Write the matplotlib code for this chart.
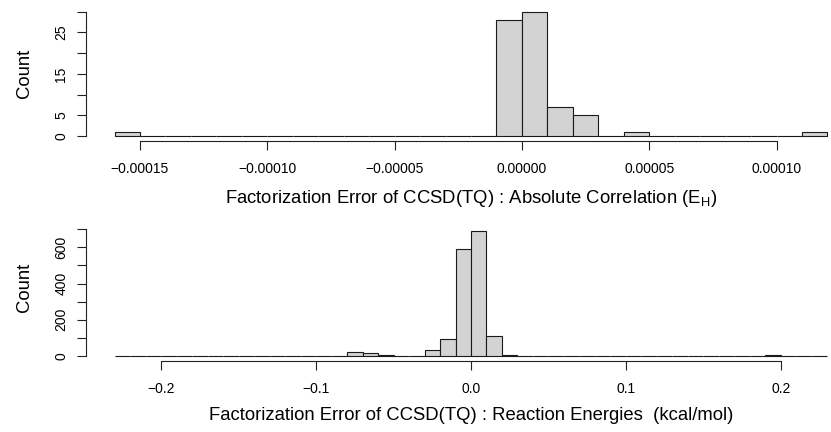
import numpy as np
import matplotlib
matplotlib.use('Agg')
import matplotlib.pyplot as plt

plt.rcParams.update({
    'font.family': ['Liberation Sans', 'DejaVu Sans'],
    'mathtext.fontset': 'custom',
    'mathtext.rm': 'Liberation Sans',
})

# top panel: absolute correlation error, bins of 1e-5 from -1.6e-4 to 1.2e-4
abs_edges = np.round(np.arange(-16, 13) * 1e-5, 10)
abs_counts = [1, 0, 0, 0, 0, 0, 0, 0, 0, 0, 0, 0, 0, 0, 0, 28,
              30, 7, 5, 0, 1, 0, 0, 0, 0, 0, 0, 1]
abs_ticks = [-0.00015, -0.0001, -0.00005, 0.0, 0.00005, 0.0001]
abs_yticks = [0, 5, 10, 15, 20, 25, 30]
abs_ylabels = ['0', '5', '', '15', '', '25', '']

# bottom panel: reaction energy error, bins of 0.01 from -0.23 to 0.23
rxn_edges = np.round(np.arange(-23, 24) * 0.01, 10)
rxn_counts = [0, 0, 1, 2, 0, 0, 0, 0, 0, 0, 0, 0, 0, 2, 0, 24,
              17, 3, 0, 1, 33, 95, 590, 690, 113, 3, 1, 1, 0, 1,
              0, 0, 0, 0, 0, 0, 0, 0, 0, 0, 0, 0, 3, 2, 1, 0]
rxn_ticks = [-0.2, -0.1, 0.0, 0.1, 0.2]
rxn_yticks = [0, 100, 200, 300, 400, 500, 600, 700]
rxn_ylabels = ['0', '', '200', '', '400', '', '600', '']

W, H = 831, 432
fig = plt.figure(figsize=(W / 100, H / 100), dpi=100)


def px_axes(x0, x1, y0, y1):
    return fig.add_axes([x0 / W, 1 - y1 / H, (x1 - x0) / W, (y1 - y0) / H])


def fmt(v, f):
    return (f % v).replace('-', '\u2212')


def r_hist(ax, edges, counts, xticks, xfmt, yticks, ylabels, xlabel):
    counts = np.asarray(counts)
    ax.bar(edges[:-1], counts, width=np.diff(edges), align='edge',
           color='#d3d3d3', edgecolor='#1a1a1a', linewidth=0.8)
    # R style 4% extension
    xr = edges[-1] - edges[0]
    ax.set_xlim(edges[0] - 0.04 * xr, edges[-1] + 0.04 * xr)
    ymax = counts.max()
    ax.set_ylim(-0.04 * ymax, 1.04 * ymax)
    for s in ('top', 'right'):
        ax.spines[s].set_visible(False)
    for s in ('left', 'bottom'):
        ax.spines[s].set_linewidth(0.8)
        ax.spines[s].set_color('#222222')
    ax.spines['bottom'].set_bounds(xticks[0], xticks[-1])
    ax.spines['left'].set_bounds(yticks[0], yticks[-1])
    ax.set_xticks(xticks)
    ax.set_xticklabels([fmt(v, xfmt) for v in xticks])
    ax.set_yticks(yticks)
    ax.set_yticklabels(ylabels, rotation=90, va='center')
    ax.tick_params(length=6.2, width=0.8, color='#222222', labelsize=10)
    ax.tick_params(axis='x', pad=9)
    ax.tick_params(axis='y', pad=6.5)
    ax.set_xlabel(xlabel, fontsize=13.3)
    ax.set_ylabel('Count', fontsize=13.3)
    ax.set_facecolor('none')
    return ax


ax1 = px_axes(86, 856, 6.7, 141)
r_hist(ax1, abs_edges, abs_counts, abs_ticks, '%.5f', abs_yticks, abs_ylabels,
       r'Factorization Error of CCSD(TQ) : Absolute Correlation (E$_\mathregular{H}$)')
ax1.xaxis.set_label_coords(0.5, -(198 - 141) / (141 - 6.7))
ax1.xaxis.label.set_va('center')
ax1.yaxis.set_label_coords(-(86 - 25) / 770, 0.5)
ax1.yaxis.label.set_va('center')

ax2 = px_axes(86, 856, 226, 361)
r_hist(ax2, rxn_edges, rxn_counts, rxn_ticks, '%.1f', rxn_yticks, rxn_ylabels,
       'Factorization Error of CCSD(TQ) : Reaction Energies  (kcal/mol)')
ax2.xaxis.set_label_coords(0.5, -(416 - 361) / (361 - 226))
ax2.xaxis.label.set_va('center')
ax2.yaxis.set_label_coords(-(86 - 25) / 770, (361 - 287) / (361 - 226))
ax2.yaxis.label.set_va('center')

fig.savefig('out.png', dpi=100, facecolor='white')
